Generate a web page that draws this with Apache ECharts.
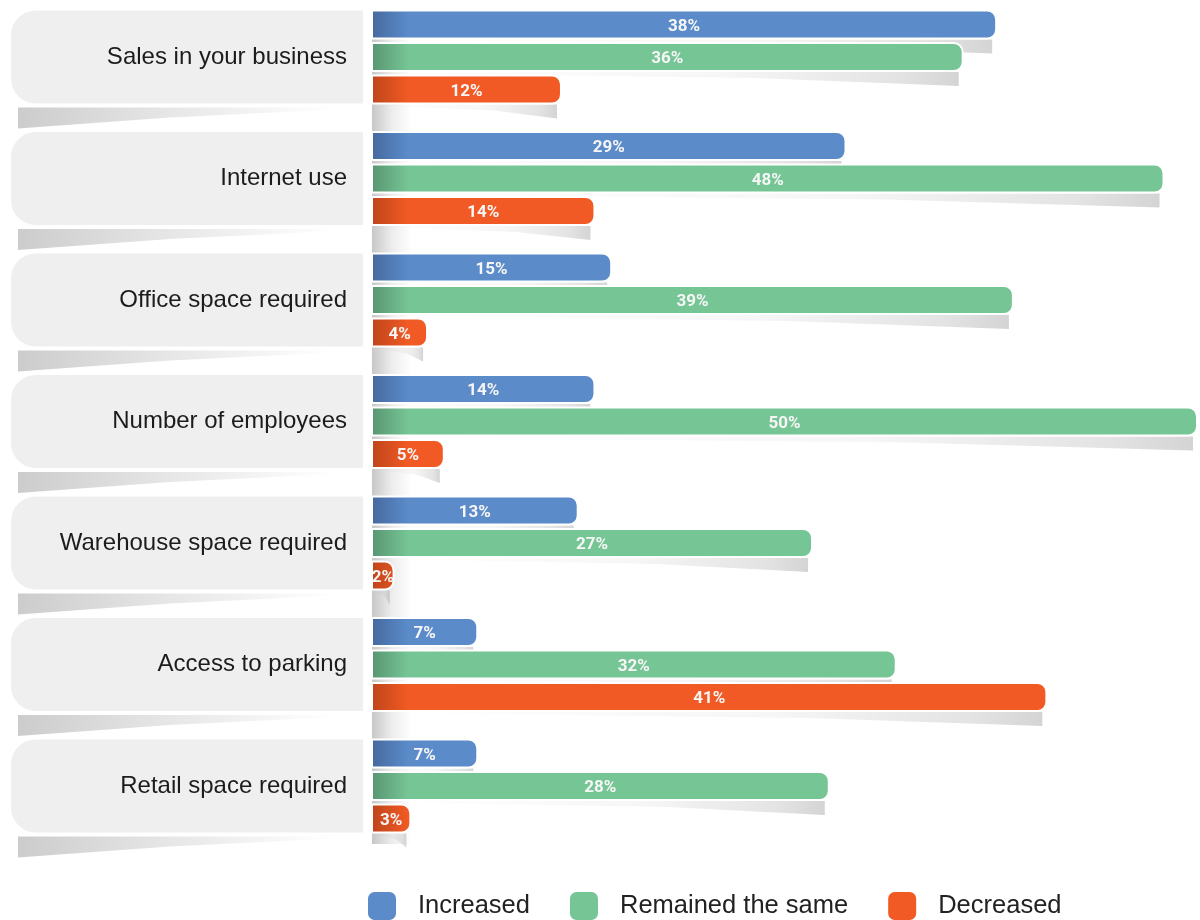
<!DOCTYPE html>
<html>
<head>
<meta charset="utf-8">
<title>Business changes</title>
<script src="https://cdn.jsdelivr.net/npm/echarts@6/dist/echarts.min.js"></script>
<style>
  html, body { margin: 0; padding: 0; background: #ffffff; }
  #chart { width: 1200px; height: 920px; }
</style>
</head>
<body>
<div id="chart"></div>
<script>
// Survey categories (top to bottom)
const categories = [
  'Sales in your business',
  'Internet use',
  'Office space required',
  'Number of employees',
  'Warehouse space required',
  'Access to parking',
  'Retail space required'
];

// Share of respondents, in percent
const increased  = [38, 29, 15, 14, 13, 7, 7];
const remained   = [36, 48, 39, 50, 27, 32, 28];
const decreased  = [12, 14, 4, 5, 2, 41, 3];

const seriesNames = ['Increased', 'Remained the same', 'Decreased'];

// Bar geometry and palette
const BAR_W = 30;          // bar thickness incl. white outline
const BAR_STEP = 32.5;     // centre-to-centre distance of bars in a group
const BAR_LEFT = 372;      // visible left edge of the plot
const palette = [
  { dark: '#46699f', base: '#5b8bc9' },
  { dark: '#589672', base: '#76c595' },
  { dark: '#bf451b', base: '#f15a24' }
];

function leftShade(c) {
  // darker band at the root of each bar (global pixel coordinates)
  return {
    type: 'linear', global: true,
    x: BAR_LEFT, y: 0, x2: BAR_LEFT + 36, y2: 0,
    colorStops: [{ offset: 0, color: c.dark }, { offset: 1, color: c.base }]
  };
}

const valueSets = [increased, remained, decreased];

// Items for the soft drop shadow under every bar
const shadowItems = [];
valueSets.forEach((vals, s) => {
  vals.forEach((v, i) => shadowItems.push([v, i, s]));
});

const chart = echarts.init(document.getElementById('chart'), null, { renderer: 'canvas' });

const barSeries = valueSets.map((vals, s) => ({
  name: seriesNames[s],
  type: 'bar',
  data: vals,
  z: 3,
  clip: true,
  barWidth: BAR_W,
  barGap: ((BAR_STEP - BAR_W) / BAR_W * 100).toFixed(2) + '%',
  itemStyle: {
    color: leftShade(palette[s]),
    borderColor: '#ffffff',
    borderWidth: 2,
    borderRadius: [0, 9, 9, 0]
  },
  label: {
    show: true,
    position: 'inside',
    formatter: '{c}%',
    color: '#f6f6f6',
    fontFamily: '"Roboto", "Liberation Sans", sans-serif',
    fontWeight: 'bold',
    fontSize: 17,
    offset: [0, 2]
  },
  emphasis: { disabled: true }
}));

const option = {
  backgroundColor: '#ffffff',
  animation: false,
  grid: {
    left: BAR_LEFT,
    right: 2,
    top: -3.75,
    height: 850.5,
    containLabel: false,
    outerBoundsMode: 'none'
  },
  xAxis: {
    type: 'value',
    min: 0.65,
    max: 50,
    show: false
  },
  yAxis: {
    type: 'category',
    data: categories,
    inverse: true,
    z: 10,
    axisLine: { show: false },
    axisTick: { show: false },
    splitLine: { show: false },
    axisLabel: {
      margin: 25,
      fontSize: 24,
      color: '#1c1c1c',
      fontFamily: '"Liberation Sans", Arial, sans-serif',
      padding: [7, 0, 0, 0]
    }
  },
  legend: {
    left: 366,
    top: 890,
    padding: 0,
    icon: 'roundRect',
    itemWidth: 30,
    itemHeight: 30,
    itemGap: 38,
    selectedMode: false,
    textStyle: {
      fontSize: 25.5,
      color: '#222222',
      fontFamily: '"Liberation Sans", Arial, sans-serif',
      padding: [0, 0, 0, 16]
    },
    data: seriesNames.map((n, s) => ({ name: n, itemStyle: { color: palette[s].base } }))
  },
  graphic: [{
    // grey fade along the root of the bar stack
    type: 'rect',
    z: 0,
    shape: { x: BAR_LEFT, y: 10, width: 40, height: 834 },
    style: {
      fill: {
        type: 'linear', x: 0, y: 0, x2: 1, y2: 0,
        colorStops: [
          { offset: 0, color: 'rgba(0,0,0,0.22)' },
          { offset: 0.5, color: 'rgba(0,0,0,0.07)' },
          { offset: 1, color: 'rgba(0,0,0,0)' }
        ]
      }
    },
    silent: true
  }],
  series: [
    {
      // rounded label panels with a curled shadow underneath
      type: 'custom',
      z: 1,
      silent: true,
      encode: { x: 0, y: 1 },
      data: categories.map((c, i) => [0, i]),
      renderItem(params, api) {
        const cy = api.coord([0, api.value(1)])[1];
        const top = cy - 47.5;
        const bot = cy + 47.5;
        return {
          type: 'group',
          children: [
            {
              type: 'polygon',
              shape: { points: [[18, bot + 3], [336, bot + 3], [336, bot + 5], [170, bot + 13], [18, bot + 24]] },
              style: {
                fill: {
                  type: 'linear', x: 0, y: 0, x2: 1, y2: 0,
                  colorStops: [
                    { offset: 0, color: 'rgba(0,0,0,0.20)' },
                    { offset: 0.45, color: 'rgba(0,0,0,0.10)' },
                    { offset: 1, color: 'rgba(0,0,0,0)' }
                  ]
                }
              }
            },
            {
              type: 'rect',
              shape: { x: 10, y: top, width: 354, height: 95, r: [26, 0, 0, 26] },
              style: { fill: '#efefef', stroke: '#ffffff', lineWidth: 2 }
            }
          ]
        };
      }
    },
    {
      // drop shadow under each bar, strongest at its tip
      type: 'custom',
      z: 2,
      silent: true,
      encode: { x: 0, y: 1 },
      data: shadowItems,
      renderItem(params, api) {
        const v = api.value(0);
        const p = api.coord([v, api.value(1)]);
        const yc = p[1] + (api.value(2) - 1) * BAR_STEP;
        const yb = yc + BAR_W / 2;
        const xr = p[0] - 5;
        const xl = BAR_LEFT + 4;
        if (xr - xl < 6) return null;
        return {
          type: 'polygon',
          shape: { points: [[xl, yb], [xr, yb], [xr, yb + 14], [xr - (xr - xl) * 0.35, yb + 6], [xl, yb + 1]] },
          style: {
            fill: {
              type: 'linear', x: 0, y: 0, x2: 1, y2: 0,
              colorStops: [
                { offset: 0, color: 'rgba(0,0,0,0)' },
                { offset: 0.6, color: 'rgba(0,0,0,0.035)' },
                { offset: 0.9, color: 'rgba(0,0,0,0.11)' },
                { offset: 1, color: 'rgba(0,0,0,0.17)' }
              ]
            }
          }
        };
      }
    }
  ].concat(barSeries)
};

chart.setOption(option);
</script>
</body>
</html>
